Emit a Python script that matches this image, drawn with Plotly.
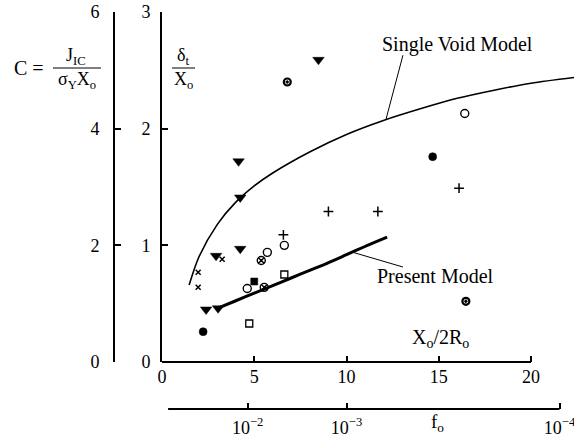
import plotly.graph_objects as go

W, H = 574, 438
SERIF = "Liberation Serif"

# ---- measured points: x = X0/2R0, y = delta_t / X0 ----
tri_x = [8.48, 4.15, 4.24, 4.24, 2.93, 2.39, 3.04]
tri_y = [2.59, 1.72, 1.41, 0.97, 0.91, 0.45, 0.46]

xmark_x = [1.96, 1.96, 3.26]
xmark_y = [0.77, 0.64, 0.88]

plus_x = [6.58, 9.02, 11.70, 16.10]
plus_y = [1.09, 1.29, 1.29, 1.49]

ocirc_x = [5.71, 6.63, 4.62, 16.41]
ocirc_y = [0.94, 1.00, 0.63, 2.13]

fcirc_x = [2.23, 14.67]
fcirc_y = [0.26, 1.76]

xcirc_x = [5.38, 5.54]
xcirc_y = [0.87, 0.64]

half_x = [6.79, 16.47]
half_y = [2.40, 0.52]

fsq_x = [5.00]
fsq_y = [0.69]

osq_x = [6.63, 4.73]
osq_y = [0.75, 0.33]

# ---- model curves ----
single_void_x = [1.47, 2, 3, 4, 5, 6, 8, 10, 12, 14, 16, 18, 20, 22.4]
single_void_y = [0.66, 0.90, 1.18, 1.37, 1.51, 1.62, 1.80, 1.95, 2.07, 2.17, 2.26, 2.33, 2.39, 2.44]

present_x = [3.0, 4, 5, 6, 7, 8, 9, 10, 11, 12.2]
present_y = [0.46, 0.525, 0.59, 0.655, 0.72, 0.785, 0.85, 0.92, 0.99, 1.07]

# ---- axes ----
x_ticks = [0, 5, 10, 15, 20]
y_ticks = [0, 1, 2, 3]
c_ticks = [0, 2, 4, 6]
f0_ticks = [1e-2, 1e-3, 1e-4]
f0_labels = ["10<sup>\u22122</sup>", "10<sup>\u22123</sup>", "10<sup>\u22124</sup>"]
# X0/2R0 scales as f0^(-1/3)
f0_pos = [f ** (-1.0 / 3.0) for f in f0_ticks]

X_RANGE = [0, 22.33]
X_DOM = [162 / W, 1.0]
Y_DOM = [76 / H, 426 / H]


def px(p):
    return p / W


def py(p):
    return 1 - p / H


fig = go.Figure()

blk = "black"


def add(x, y, symbol, size, lw=1.2, color=blk):
    fig.add_trace(go.Scatter(
        x=x, y=y, mode="markers", showlegend=False, hoverinfo="skip",
        marker=dict(symbol=symbol, size=size, color=color,
                    line=dict(color=blk, width=lw)),
        cliponaxis=False))


fig.add_trace(go.Scatter(x=single_void_x, y=single_void_y, mode="lines",
                         line=dict(color=blk, width=1.6, shape="spline", smoothing=0.8),
                         showlegend=False, hoverinfo="skip"))
fig.add_trace(go.Scatter(x=present_x, y=present_y, mode="lines",
                         line=dict(color=blk, width=3, shape="spline", smoothing=0.8),
                         showlegend=False, hoverinfo="skip"))

add(tri_x, tri_y, "triangle-down", 10, 0.5)
add(xmark_x, xmark_y, "x-thin-open", 5, 1.5)
add(plus_x, plus_y, "cross-thin-open", 7, 1.5)
add(ocirc_x, ocirc_y, "circle-open", 8, 1.4)
add(fcirc_x, fcirc_y, "circle", 8, 0.5)
add(xcirc_x, xcirc_y, "circle-x-open", 8, 1.4)
add(half_x, half_y, "circle-open-dot", 7, 2.2)
add(fsq_x, fsq_y, "square", 7, 0.5)
add(osq_x, osq_y, "square-open", 7, 1.3)

# empty trace carrying the secondary axes (C and f0)
fig.add_trace(go.Scatter(x=[], y=[], xaxis="x2", yaxis="y2", showlegend=False))

tickfont = dict(family=SERIF, size=18, color=blk)

fig.update_layout(
    width=W, height=H,
    margin=dict(l=0, r=0, t=0, b=0, autoexpand=False),
    paper_bgcolor="white", plot_bgcolor="white",
    font=dict(family=SERIF, color=blk),
    xaxis=dict(domain=X_DOM, range=X_RANGE, tickvals=x_ticks,
               ticks="inside", ticklen=6, tickwidth=2, tickcolor=blk,
               showline=False, showgrid=False, zeroline=False,
               tickfont=tickfont, ticklabelstandoff=2, anchor="y"),
    yaxis=dict(domain=Y_DOM, range=[0, 3], tickvals=y_ticks,
               ticks="inside", ticklen=6, tickwidth=2, tickcolor=blk,
               showline=True, linewidth=2, linecolor=blk,
               showgrid=False, zeroline=False,
               tickfont=tickfont, ticklabelstandoff=6, anchor="x"),
    yaxis2=dict(overlaying="y", anchor="free", position=114 / W, side="left",
                range=[0, 6], tickvals=c_ticks,
                ticks="inside", ticklen=6, tickwidth=2, tickcolor=blk,
                showline=True, linewidth=2, linecolor=blk,
                showgrid=False, zeroline=False,
                tickfont=tickfont, ticklabelstandoff=10),
    xaxis2=dict(overlaying="x", anchor="free", position=py(409), side="bottom",
                range=X_RANGE, tickvals=f0_pos, ticktext=f0_labels,
                ticks="inside", ticklen=6, tickwidth=2, tickcolor=blk,
                showline=False, showgrid=False, zeroline=False,
                ticklabeloverflow="allow",
                tickfont=tickfont, ticklabelstandoff=6),
)

# x axis line, ending at X0/2R0 = 20
fig.add_shape(type="line", xref="x", yref="paper", x0=0, x1=20,
              y0=Y_DOM[0], y1=Y_DOM[0], line=dict(color=blk, width=2))
# f0 axis line
fig.add_shape(type="line", xref="x", yref="paper", x0=0.33, x1=f0_pos[-1],
              y0=py(409), y1=py(409), line=dict(color=blk, width=2))

# leader lines to the curve labels
fig.add_shape(type="line", xref="x", yref="y", x0=12.14, y0=2.08, x1=13.06, y1=2.63,
              line=dict(color=blk, width=1))
fig.add_shape(type="line", xref="x", yref="y", x0=10.35, y0=0.94, x1=13.06, y1=0.814,
              line=dict(color=blk, width=1))


def note(text, x, y, xanchor="center", size=20, xref="paper", yref="paper"):
    fig.add_annotation(text=text, x=x, y=y, xref=xref, yref=yref,
                       xanchor=xanchor, yanchor="middle", showarrow=False,
                       font=dict(family=SERIF, size=size, color=blk))


note("Single Void Model", px(457), py(45))
note("Present Model", px(435), py(276))
note("X<sub>o</sub>/2R<sub>o</sub>", px(440), py(338))
note("f<sub>o</sub>", px(437), py(423), size=19)

# C = J_IC / (sigma_Y X_o)
note("C =", px(12), py(68), xanchor="left", size=20)
note("J<sub>IC</sub>", px(76), py(56), size=18)
note("\u03c3<sub>Y</sub>X<sub>o</sub>", px(77), py(81), size=18)
fig.add_shape(type="line", xref="paper", yref="paper", x0=px(53), x1=px(101),
              y0=py(68), y1=py(68), line=dict(color=blk, width=1))

# delta_t / X_o
note("\u03b4<sub>t</sub>", px(183), py(56), size=18)
note("X<sub>o</sub>", px(183), py(81), size=18)
fig.add_shape(type="line", xref="paper", yref="paper", x0=px(172), x1=px(195),
              y0=py(68), y1=py(68), line=dict(color=blk, width=1))

fig.write_html("out.html")
